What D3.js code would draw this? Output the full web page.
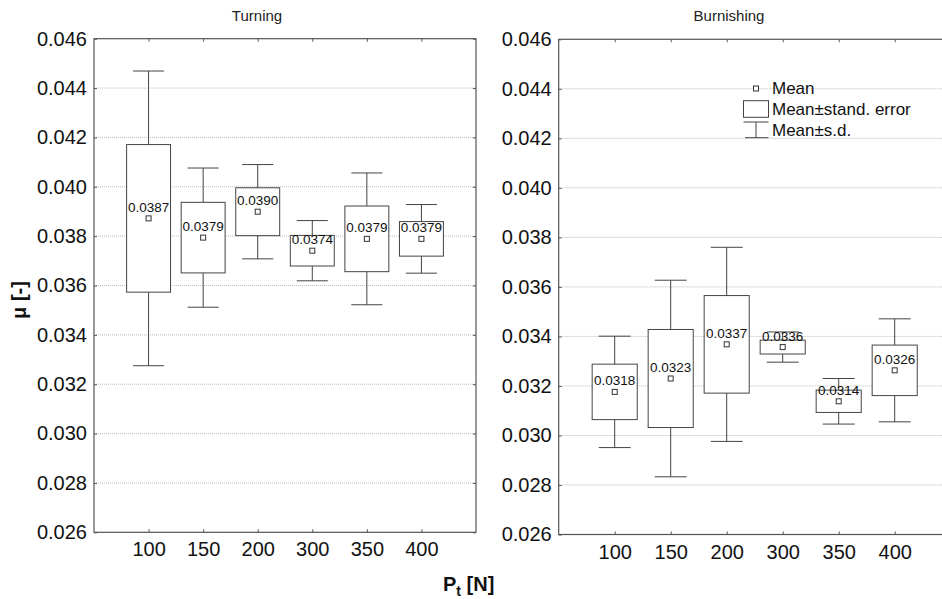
<!DOCTYPE html>
<html>
<head>
<meta charset="utf-8">
<script src="https://cdn.jsdelivr.net/npm/d3@7"></script>
<style>
  html, body { margin: 0; padding: 0; background: #fff; }
  svg { display: block; font-family: "Liberation Sans", Arial, sans-serif; }
</style>
</head>
<body>
<svg id="chart" width="942" height="599"></svg>
<script>
// ---- data ----
const categories = ["100", "150", "200", "300", "350", "400"];
const yTicks = [0.026, 0.028, 0.030, 0.032, 0.034, 0.036, 0.038, 0.040, 0.042, 0.044, 0.046];

const turningMean = [0.03872, 0.03794, 0.03899, 0.03741, 0.03789, 0.03789];
const turningSE   = [0.00299, 0.00143, 0.00097, 0.00062, 0.00133, 0.00070];
const turningSD   = [0.00597, 0.00282, 0.00191, 0.00122, 0.00267, 0.00139];

const burnishingMean = [0.03176, 0.03230, 0.03368, 0.03357, 0.03138, 0.03263];
const burnishingSE   = [0.00112, 0.00198, 0.00197, 0.00028, 0.00045, 0.00102];
const burnishingSD   = [0.00225, 0.00397, 0.00392, 0.00061, 0.00092, 0.00208];

const panelTitles = ["Turning", "Burnishing"];
const legendLabels = ["Mean", "Mean\u00b1stand. error", "Mean\u00b1s.d."];

// ---- layout ----
const svg = d3.select("#chart");
const panels = [
  { title: panelTitles[0], mean: turningMean, se: turningSE, sd: turningSD,
    x0: 94, x1: 476, y0: 38.7, y1: 532.3, titleX: 257, legend: false },
  { title: panelTitles[1], mean: burnishingMean, se: burnishingSE, sd: burnishingSD,
    x0: 558.7, x1: 950.7, y0: 39.3, y1: 534.5, titleX: 729, legend: true }
];

const frameColor = "#555";
const boxColor = "#444";

panels.forEach(p => {
  const g = svg.append("g");
  const x = d3.scalePoint().domain(categories).range([p.x0, p.x1]).padding(1);
  const y = d3.scaleLinear().domain([0.026, 0.046]).range([p.y1, p.y0]);
  const step = x.step();

  // gridlines
  g.append("g").selectAll("line")
    .data(yTicks.filter(t => t > 0.026 && t < 0.046))
    .join("line")
    .attr("x1", p.x0).attr("x2", p.x1)
    .attr("y1", d => y(d)).attr("y2", d => y(d))
    .attr("stroke", "#bdbdbd").attr("stroke-width", 1)
    .attr("stroke-dasharray", "1,1");

  // axes
  const yAxis = g.append("g").attr("transform", `translate(${p.x0},0)`)
    .call(d3.axisLeft(y).tickValues(yTicks).tickFormat(d3.format(".3f"))
      .tickSize(-3).tickPadding(7));
  const xAxis = g.append("g").attr("transform", `translate(0,${p.y1})`)
    .call(d3.axisBottom(x).tickSize(-3).tickPadding(10));
  const xTop = g.append("g").attr("transform", `translate(0,${p.y0})`)
    .call(d3.axisTop(x).tickSize(-3).tickFormat(""));
  const yRight = g.append("g").attr("transform", `translate(${p.x1},0)`)
    .call(d3.axisRight(y).tickValues(yTicks).tickSize(-3).tickFormat(""));
  [yAxis, xAxis, xTop, yRight].forEach(a => {
    a.select(".domain").remove();
    a.selectAll(".tick line").attr("stroke", frameColor);
    a.selectAll("text").attr("font-size", 20).attr("fill", "#111")
      .attr("font-family", "Liberation Sans, Arial, sans-serif");
  });

  // frame
  g.append("rect")
    .attr("x", p.x0).attr("y", p.y0)
    .attr("width", p.x1 - p.x0).attr("height", p.y1 - p.y0)
    .attr("fill", "none").attr("stroke", frameColor).attr("stroke-width", 1.2);

  // title
  g.append("text").attr("x", p.titleX).attr("y", 21)
    .attr("text-anchor", "middle").attr("font-size", 15).attr("fill", "#222")
    .text(p.title);

  const data = categories.map((c, i) => ({ c, m: p.mean[i], se: p.se[i], sd: p.sd[i] }));
  const boxW = step * 0.805, capW = step * 0.57;

  const items = g.append("g").selectAll("g").data(data).join("g");
  // whisker vertical
  items.append("line")
    .attr("x1", d => x(d.c)).attr("x2", d => x(d.c))
    .attr("y1", d => y(d.m + d.sd)).attr("y2", d => y(d.m - d.sd))
    .attr("stroke", boxColor);
  // caps
  items.append("line")
    .attr("x1", d => x(d.c) - capW / 2).attr("x2", d => x(d.c) + capW / 2)
    .attr("y1", d => y(d.m + d.sd)).attr("y2", d => y(d.m + d.sd))
    .attr("stroke", boxColor);
  items.append("line")
    .attr("x1", d => x(d.c) - capW / 2).attr("x2", d => x(d.c) + capW / 2)
    .attr("y1", d => y(d.m - d.sd)).attr("y2", d => y(d.m - d.sd))
    .attr("stroke", boxColor);
  // box
  items.append("rect")
    .attr("x", d => x(d.c) - boxW / 2).attr("width", boxW)
    .attr("y", d => y(d.m + d.se)).attr("height", d => y(d.m - d.se) - y(d.m + d.se))
    .attr("fill", "#fff").attr("stroke", boxColor);
  // mean marker
  items.append("rect")
    .attr("x", d => x(d.c) - 2.5).attr("y", d => y(d.m) - 2.5)
    .attr("width", 5).attr("height", 5)
    .attr("fill", "#fff").attr("stroke", "#333");
  // labels
  items.append("text")
    .attr("x", d => x(d.c)).attr("y", d => y(d.m) - 6.5)
    .attr("text-anchor", "middle").attr("font-size", 13.5).attr("fill", "#111")
    .text(d => d3.format(".4f")(d.m));

  // legend
  if (p.legend) {
    const lg = g.append("g");
    const lx = p.x0 + 197.3;
    lg.append("rect").attr("x", lx - 2.5).attr("y", 86).attr("width", 5).attr("height", 5)
      .attr("fill", "#fff").attr("stroke", "#333");
    lg.append("rect").attr("x", lx - 12.5).attr("y", 100.7).attr("width", 25).attr("height", 16.6)
      .attr("fill", "#fff").attr("stroke", boxColor);
    lg.append("line").attr("x1", lx - 12.5).attr("x2", lx + 12.5).attr("y1", 122).attr("y2", 122)
      .attr("stroke", boxColor);
    lg.append("line").attr("x1", lx).attr("x2", lx).attr("y1", 122).attr("y2", 137.7)
      .attr("stroke", boxColor);
    lg.append("line").attr("x1", lx - 11).attr("x2", lx + 12.5).attr("y1", 137.7).attr("y2", 137.7)
      .attr("stroke", boxColor);
    lg.selectAll("text.leg").data(legendLabels).join("text")
      .attr("class", "leg")
      .attr("x", lx + 16).attr("y", (d, i) => 88.5 + i * 21)
      .attr("dy", "0.35em").attr("font-size", 17).attr("fill", "#111")
      .text(d => d);
  }
});

// axis titles
svg.append("text")
  .attr("transform", "translate(26,300) rotate(-90)")
  .attr("text-anchor", "middle").attr("font-size", 20).attr("font-weight", "bold")
  .attr("fill", "#111")
  .text("\u03bc [-]");

const xl = svg.append("text").attr("x", 443).attr("y", 591)
  .attr("font-size", 20).attr("font-weight", "bold").attr("fill", "#111");
xl.append("tspan").text("P");
xl.append("tspan").attr("font-size", 14).attr("dy", 5).text("t");
xl.append("tspan").attr("dy", -5).text(" [N]");
</script>
</body>
</html>
